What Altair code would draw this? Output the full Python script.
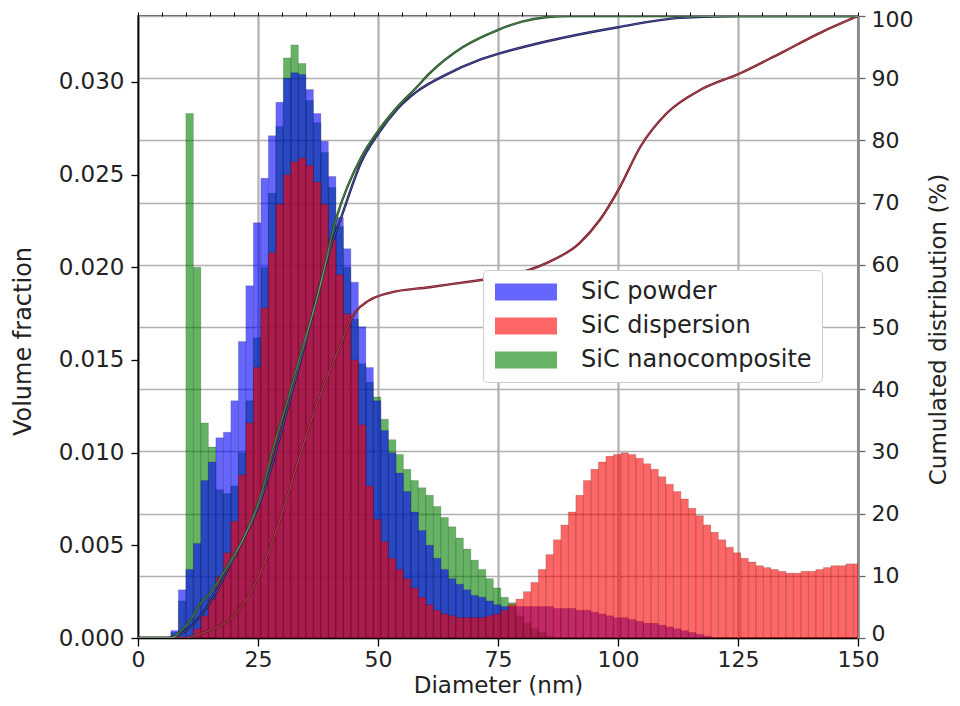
import altair as alt
import pandas as pd

# ---------------- data ----------------
bin_start = 0.6      # nm, left edge of first histogram bin
bin_width = 1.5625   # nm

series_names = ["SiC powder", "SiC dispersion", "SiC nanocomposite"]

powder = [0, 0, 0, 0, 0.0004, 0.0026, 0.0037, 0.0051, 0.0085, 0.0095,
          0.0108, 0.0111, 0.0128, 0.0160, 0.0190, 0.0224, 0.0248, 0.0271, 0.0289, 0.0302,
          0.0305, 0.0304, 0.0296, 0.0283, 0.0268, 0.0249, 0.0227, 0.0210, 0.0192, 0.0168,
          0.0146, 0.0128, 0.0112, 0.0100, 0.0089, 0.0079, 0.0068, 0.0058, 0.0050, 0.0043,
          0.0037, 0.0032, 0.0029, 0.0026, 0.0023, 0.0022, 0.0020, 0.0018, 0.0017, 0.0017,
          0.0017, 0.0017, 0.0017, 0.0017, 0.0017, 0.0016, 0.0016, 0.0016, 0.0015, 0.0015,
          0.0014, 0.0013, 0.0012, 0.0011, 0.0011, 0.0010, 0.0009, 0.0008, 0.0008, 0.0007,
          0.0006, 0.0005, 0.0004, 0.0003, 0.0002, 0.0001, 0, 0, 0, 0,
          0, 0, 0, 0, 0, 0, 0, 0, 0, 0,
          0, 0, 0, 0, 0, 0]

dispersion = [0, 0, 0, 0, 0, 0, 0, 0.0005, 0.0012, 0.0021,
              0.0033, 0.0046, 0.0063, 0.0088, 0.0116, 0.0146, 0.0178, 0.0208, 0.0234, 0.0250,
              0.0257, 0.0259, 0.0255, 0.0246, 0.0234, 0.0215, 0.0196, 0.0175, 0.0150, 0.0115,
              0.0082, 0.0064, 0.0052, 0.0043, 0.0037, 0.0032, 0.0027, 0.0022, 0.0018, 0.0015,
              0.0013, 0.0012, 0.0011, 0.0011, 0.0011, 0.0011, 0.0012, 0.0013, 0.0015, 0.0018,
              0.0021, 0.0025, 0.0030, 0.0037, 0.0045, 0.0053, 0.0061, 0.0068, 0.0077, 0.0085,
              0.0091, 0.0095, 0.0098, 0.0099, 0.0100, 0.0099, 0.0097, 0.0094, 0.0091, 0.0087,
              0.0083, 0.0079, 0.0075, 0.0070, 0.0066, 0.0061, 0.0057, 0.0053, 0.0049, 0.0046,
              0.0043, 0.0041, 0.0039, 0.0038, 0.0037, 0.0036, 0.0035, 0.0035, 0.0036, 0.0036,
              0.0037, 0.0038, 0.0039, 0.0039, 0.0040, 0.0040]

nanocomposite = [0, 0, 0, 0, 0.0003, 0.0020, 0.0283, 0.0200, 0.0116, 0.0103,
                 0.0080, 0.0078, 0.0082, 0.0100, 0.0128, 0.0162, 0.0200, 0.0240, 0.0276, 0.0313,
                 0.0320, 0.0310, 0.0290, 0.0278, 0.0262, 0.0243, 0.0222, 0.0200, 0.0172, 0.0148,
                 0.0138, 0.0130, 0.0118, 0.0107, 0.0099, 0.0091, 0.0085, 0.0081, 0.0077, 0.0071,
                 0.0065, 0.0060, 0.0054, 0.0048, 0.0042, 0.0037, 0.0032, 0.0027, 0.0022, 0.0019,
                 0.0012, 0.0008, 0.0005, 0.0003, 0.0001, 0, 0, 0, 0, 0,
                 0, 0, 0, 0, 0, 0, 0, 0, 0, 0,
                 0, 0, 0, 0, 0, 0, 0, 0, 0, 0,
                 0, 0, 0, 0, 0, 0, 0, 0, 0, 0,
                 0, 0, 0, 0, 0, 0]

# cumulative curves (right axis, %)
cum_powder_d = [0, 6, 8, 10, 13, 16, 19, 22, 25, 28, 31, 34, 37, 40, 42.5, 46.5, 50, 54,
                58, 64, 71, 75, 85, 100, 113, 125, 150]
cum_powder = [0, 0, 0.3, 1.2, 3.5, 7, 11.5, 16, 21, 28, 36.5, 45, 54, 62.5, 68, 76.5, 81, 85,
              87.8, 90.5, 92.9, 93.9, 95.9, 98.2, 99.7, 100, 100]

cum_disp_d = [0, 10, 12.3, 16, 19, 22, 25.2, 28, 31, 34, 37, 41.3, 45.4, 48, 52.4, 60.7, 71.9,
              75.4, 85.2, 92, 96.2, 100.4, 104.6, 110.2, 117.1, 125.5, 133.8, 142.1, 150]
cum_disp = [0, 0, 0.5, 1.6, 2.9, 5.5, 10, 15.5, 22.5, 30, 37, 45.5, 52.5, 54.2, 55.5, 56.4,
            57.6, 58, 60.3, 63.5, 67.2, 72.5, 78.9, 84.4, 88.1, 90.8, 94, 97.3, 100]

cum_nano_d = [0, 7, 8, 10, 11, 13, 15.5, 19, 22.5, 26, 28, 31.2, 34, 37.2, 41.4, 46.5, 50,
              53.6, 58, 60.8, 67.7, 74.8, 80, 85, 90, 150]
cum_nano = [0, 0, 0.5, 2, 3, 5.5, 7.7, 12, 16.9, 24, 30, 38.3, 46, 54.3, 67.7, 77.3, 81.5,
            85, 88.5, 90.8, 95, 97.7, 99.1, 99.8, 100, 100]

x_ticks = [0, 25, 50, 75, 100, 125, 150]
x_minor = list(range(0, 151, 5))
y_left_ticks = [0.0, 0.005, 0.010, 0.015, 0.020, 0.025, 0.030]
y_right_ticks = list(range(0, 101, 10))

# ---------------- tables ----------------
draw_order = {"SiC nanocomposite": 0, "SiC powder": 1, "SiC dispersion": 2}
rows = []
for name, vals in [("SiC nanocomposite", nanocomposite), ("SiC powder", powder),
                   ("SiC dispersion", dispersion)]:
    for i, v in enumerate(vals):
        if v > 0:
            rows.append({"series": name, "x0": bin_start + i * bin_width,
                         "x1": bin_start + (i + 1) * bin_width, "frac": v,
                         "ord": draw_order[name]})
hist_df = pd.DataFrame(rows)

crow = []
for name, ds, ps in [("SiC powder", cum_powder_d, cum_powder),
                     ("SiC dispersion", cum_disp_d, cum_disp),
                     ("SiC nanocomposite", cum_nano_d, cum_nano)]:
    for d, p in zip(ds, ps):
        crow.append({"series": name, "d": d, "pct": p})
cum_df = pd.DataFrame(crow)

# ---------------- styling ----------------
FONT = "DejaVu Sans"
TXT = "#222222"
GRID = "#b0b0b0"

xscale = alt.Scale(domain=[0, 150], nice=False, zero=False)
yscale_right = alt.Scale(domain=[0, 100], nice=False)

minor_x_axis = alt.Axis(values=x_minor, labels=False, grid=False, domain=False,
                        tickSize=4, tickColor="#000", tickWidth=1, title=None)
right_axis = alt.Axis(orient="right", values=y_right_ticks, grid=True, gridColor=GRID,
                      gridWidth=1.6, tickSize=7, tickColor="#666", tickWidth=1.3,
                      domainColor="#8a8a8a", domainWidth=2.6,
                      labelFont=FONT, labelFontSize=22, labelColor=TXT, labelPadding=6,
                      labelFlush=True, labelFlushOffset=7,
                      titleFont=FONT, titleFontSize=23, titleFontWeight="normal",
                      titleColor=TXT, titleX=92, titleY=313, titleAngle=270,
                      titleBaseline="bottom", titleAlign="center")

bars = alt.Chart(hist_df).mark_bar(
    fillOpacity=0.6, stroke="#000000", strokeOpacity=0.22, strokeWidth=0.7, clip=True
).encode(
    x=alt.X("x0:Q", scale=xscale, title="Diameter (nm)",
            axis=alt.Axis(values=x_ticks, grid=True, gridColor=GRID, gridWidth=2.2,
                          tickSize=8, tickColor="#000", tickWidth=1.3,
                          domainColor="#000", domainWidth=1.6,
                          labelFont=FONT, labelFontSize=22, labelColor=TXT,
                          labelPadding=3, labelFlush=False,
                          titleFont=FONT, titleFontSize=23, titleFontWeight="normal",
                          titleColor=TXT, titleY=54, titleBaseline="alphabetic")),
    x2="x1:Q",
    y=alt.Y("frac:Q", stack=None, title="Volume fraction",
            scale=alt.Scale(domain=[0, 0.03356], nice=False),
            axis=alt.Axis(values=y_left_ticks, format=".3f", grid=False,
                          tickSize=7, tickColor="#000", tickWidth=1.3,
                          domainColor="#000", domainWidth=1.6,
                          labelFont=FONT, labelFontSize=23, labelColor=TXT,
                          labelPadding=7,
                          titleFont=FONT, titleFontSize=24, titleFontWeight="normal",
                          titleColor=TXT, titleX=-103, titleY=325, titleAngle=270,
                          titleBaseline="bottom", titleAlign="center")),
    y2=alt.datum(0),
    color=alt.Color("series:N",
                    scale=alt.Scale(domain=series_names, range=["#0000ff", "#ff0000", "#008000"]),
                    legend=alt.Legend(title=None, orient="none", legendX=345, legendY=254,
                                      symbolType="M-1,-0.85H5.2V0.85H-1Z", symbolSize=400,
                                      symbolStrokeWidth=0, symbolOpacity=0.6,
                                      labelFont=FONT, labelFontSize=24, labelColor=TXT,
                                      labelOffset=64, labelLimit=400, rowPadding=10,
                                      padding=10, fillColor="white", strokeColor="#cccccc",
                                      cornerRadius=4)),
    order=alt.Order("ord:Q"),
)

line_outer = alt.Chart(cum_df).mark_line(interpolate="monotone", strokeWidth=2.4, clip=True).encode(
    x=alt.X("d:Q", scale=xscale, axis=minor_x_axis),
    y=alt.Y("pct:Q", title="Cumulated distribution (%)", scale=yscale_right, axis=right_axis),
    stroke=alt.Stroke("series:N",
                      scale=alt.Scale(domain=series_names, range=["#15155e", "#7a1020", "#1c4f1c"]),
                      legend=None),
    detail="series:N",
)

line_inner = alt.Chart(cum_df).mark_line(interpolate="monotone", strokeWidth=0.8,
                                         stroke="white", strokeOpacity=0.35, clip=True).encode(
    x=alt.X("d:Q", scale=xscale, axis=minor_x_axis),
    y=alt.Y("pct:Q", title="Cumulated distribution (%)", scale=yscale_right, axis=right_axis),
    detail="series:N",
)

lines = alt.layer(line_outer, line_inner)

chart = alt.layer(bars, lines).resolve_scale(
    y="independent"
).resolve_axis(
    x="independent"
).properties(
    width=720, height=622,
    autosize=alt.AutoSizeParams(type="none"),
    padding={"left": 130, "top": 8, "right": 94, "bottom": 60},
    background="white",
).configure_view(stroke="#222222", strokeWidth=1.6)

chart.save("out.html", embed_options={"renderer": "svg", "actions": False})
